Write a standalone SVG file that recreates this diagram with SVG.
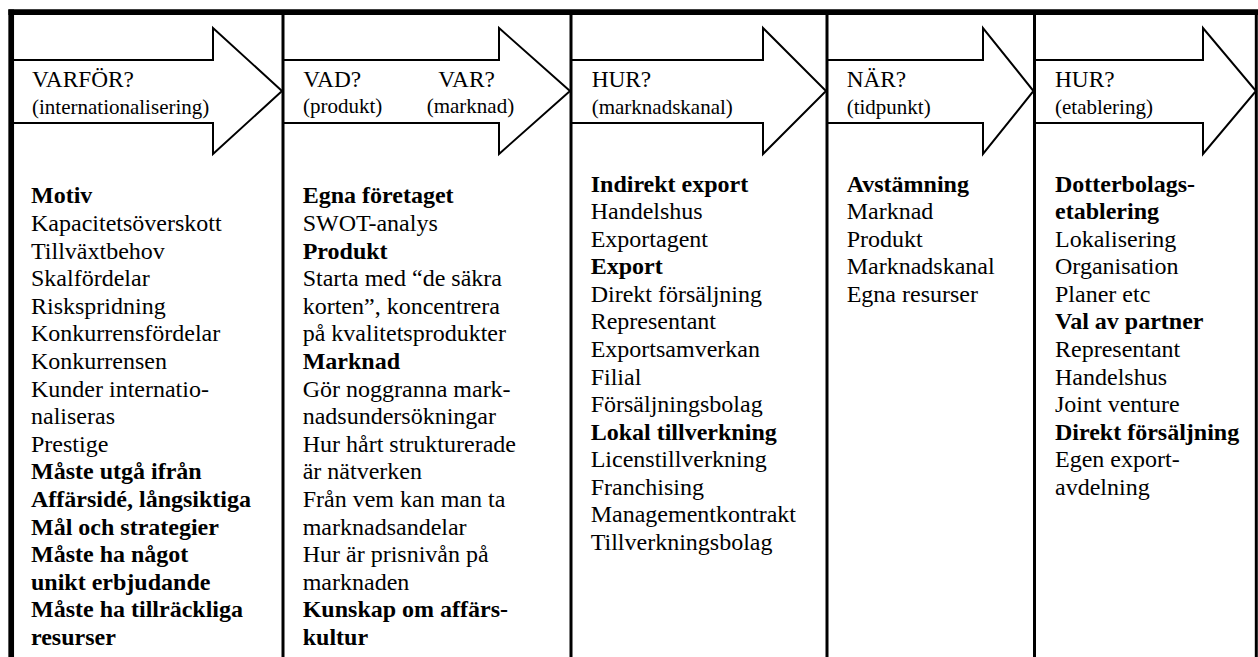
<svg xmlns="http://www.w3.org/2000/svg" width="1258" height="657" viewBox="0 0 1258 657">
<style>
  text { font-family: "Liberation Serif", "Times New Roman", serif; fill: #000; }
  .t { font-size: 23.3px; }
  .s { font-size: 21px; }
  .b { font-size: 24px; }
  .bb { font-size: 24px; font-weight: bold; }
  .arrow { fill: #fff; stroke: #000; stroke-width: 2; stroke-linejoin: miter; }
  .frame { stroke: #000; fill: none; }
</style>
<rect x="0" y="0" width="1258" height="657" fill="#fff"/>

<g id="col-varfor">
  <path class="arrow" d="M13,60 H213 V28 L282,91 L213,154 V123 H13 Z"/>
  <text class="t" x="32" y="87">VARFÖR?</text>
  <text class="s" x="32" y="113.5">(internationalisering)</text>
  <text x="31">
    <tspan class="bb" x="31" y="203.3">Motiv</tspan>
    <tspan class="b" x="31" y="230.9">Kapacitetsöverskott</tspan>
    <tspan class="b" x="31" y="258.5">Tillväxtbehov</tspan>
    <tspan class="b" x="31" y="286.1">Skalfördelar</tspan>
    <tspan class="b" x="31" y="313.7">Riskspridning</tspan>
    <tspan class="b" x="31" y="341.3">Konkurrensfördelar</tspan>
    <tspan class="b" x="31" y="368.9">Konkurrensen</tspan>
    <tspan class="b" x="31" y="396.5">Kunder internatio-</tspan>
    <tspan class="b" x="31" y="424.1">naliseras</tspan>
    <tspan class="b" x="31" y="451.7">Prestige</tspan>
    <tspan class="bb" x="31" y="479.3">Måste utgå ifrån</tspan>
    <tspan class="bb" x="31" y="506.9">Affärsidé, långsiktiga</tspan>
    <tspan class="bb" x="31" y="534.5">Mål och strategier</tspan>
    <tspan class="bb" x="31" y="562.1">Måste ha något</tspan>
    <tspan class="bb" x="31" y="589.7">unikt erbjudande</tspan>
    <tspan class="bb" x="31" y="617.3">Måste ha tillräckliga</tspan>
    <tspan class="bb" x="31" y="644.9">resurser</tspan>
  </text>
</g>

<g id="col-vad-var">
  <path class="arrow" d="M283,60 H499 V28 L570,91 L499,154 V123 H283 Z"/>
  <text class="t" x="303.3" y="87">VAD?</text>
  <text class="t" x="438.3" y="87">VAR?</text>
  <text class="s" x="303" y="113">(produkt)</text>
  <text class="s" x="426.7" y="113">(marknad)</text>
  <text>
    <tspan class="bb" x="302.7" y="203.3">Egna företaget</tspan>
    <tspan class="b" x="302.7" y="230.9">SWOT-analys</tspan>
    <tspan class="bb" x="302.7" y="258.5">Produkt</tspan>
    <tspan class="b" x="302.7" y="286.1">Starta med “de säkra</tspan>
    <tspan class="b" x="302.7" y="313.7">korten”, koncentrera</tspan>
    <tspan class="b" x="302.7" y="341.3">på kvalitetsprodukter</tspan>
    <tspan class="bb" x="302.7" y="368.9">Marknad</tspan>
    <tspan class="b" x="302.7" y="396.5">Gör noggranna mark-</tspan>
    <tspan class="b" x="302.7" y="424.1">nadsundersökningar</tspan>
    <tspan class="b" x="302.7" y="451.7">Hur hårt strukturerade</tspan>
    <tspan class="b" x="302.7" y="479.3">är nätverken</tspan>
    <tspan class="b" x="302.7" y="506.9">Från vem kan man ta</tspan>
    <tspan class="b" x="302.7" y="534.5">marknadsandelar</tspan>
    <tspan class="b" x="302.7" y="562.1">Hur är prisnivån på</tspan>
    <tspan class="b" x="302.7" y="589.7">marknaden</tspan>
    <tspan class="bb" x="302.7" y="617.3">Kunskap om affärs-</tspan>
    <tspan class="bb" x="302.7" y="644.9">kultur</tspan>
  </text>
</g>

<g id="col-hur-kanal">
  <path class="arrow" d="M571,60 H763 V28 L826,91 L763,154 V123 H571 Z"/>
  <text class="t" x="591.7" y="87">HUR?</text>
  <text class="s" x="591.7" y="113.5">(marknadskanal)</text>
  <text>
    <tspan class="bb" x="590.7" y="191.7">Indirekt export</tspan>
    <tspan class="b" x="590.7" y="219.25">Handelshus</tspan>
    <tspan class="b" x="590.7" y="246.8">Exportagent</tspan>
    <tspan class="bb" x="590.7" y="274.35">Export</tspan>
    <tspan class="b" x="590.7" y="301.9">Direkt försäljning</tspan>
    <tspan class="b" x="590.7" y="329.45">Representant</tspan>
    <tspan class="b" x="590.7" y="357">Exportsamverkan</tspan>
    <tspan class="b" x="590.7" y="384.55">Filial</tspan>
    <tspan class="b" x="590.7" y="412.1">Försäljningsbolag</tspan>
    <tspan class="bb" x="590.7" y="439.65">Lokal tillverkning</tspan>
    <tspan class="b" x="590.7" y="467.2">Licenstillverkning</tspan>
    <tspan class="b" x="590.7" y="494.75">Franchising</tspan>
    <tspan class="b" x="590.7" y="522.3">Managementkontrakt</tspan>
    <tspan class="b" x="590.7" y="549.85">Tillverkningsbolag</tspan>
  </text>
</g>

<g id="col-nar">
  <path class="arrow" d="M827,60 H983 V28 L1033.5,91 L983,154 V123 H827 Z"/>
  <text class="t" x="846.7" y="87">NÄR?</text>
  <text class="s" x="846.7" y="113.5">(tidpunkt)</text>
  <text>
    <tspan class="bb" x="846.7" y="191.7">Avstämning</tspan>
    <tspan class="b" x="846.7" y="219.25">Marknad</tspan>
    <tspan class="b" x="846.7" y="246.8">Produkt</tspan>
    <tspan class="b" x="846.7" y="274.35">Marknadskanal</tspan>
    <tspan class="b" x="846.7" y="301.9">Egna resurser</tspan>
  </text>
</g>

<g id="col-hur-etablering">
  <path class="arrow" d="M1035,60 H1203 V28 L1256,91 L1203,154 V123 H1035 Z"/>
  <text class="t" x="1055" y="87">HUR?</text>
  <text class="s" x="1055" y="113.5">(etablering)</text>
  <text>
    <tspan class="bb" x="1055" y="191.7">Dotterbolags-</tspan>
    <tspan class="bb" x="1055" y="219.25">etablering</tspan>
    <tspan class="b" x="1055" y="246.8">Lokalisering</tspan>
    <tspan class="b" x="1055" y="274.35">Organisation</tspan>
    <tspan class="b" x="1055" y="301.9">Planer etc</tspan>
    <tspan class="bb" x="1055" y="329.45">Val av partner</tspan>
    <tspan class="b" x="1055" y="357">Representant</tspan>
    <tspan class="b" x="1055" y="384.55">Handelshus</tspan>
    <tspan class="b" x="1055" y="412.1">Joint venture</tspan>
    <tspan class="bb" x="1055" y="439.65">Direkt försäljning</tspan>
    <tspan class="b" x="1055" y="467.2">Egen export-</tspan>
    <tspan class="b" x="1055" y="494.75">avdelning</tspan>
  </text>
</g>

<g id="frame" class="frame">
  <line x1="8.4" y1="12.2" x2="1258" y2="12.2" stroke-width="5.7"/>
  <line x1="11.2" y1="9.4" x2="11.2" y2="657" stroke-width="5.7"/>
  <line x1="283" y1="12" x2="283" y2="657" stroke-width="3"/>
  <line x1="571" y1="12" x2="571" y2="657" stroke-width="3"/>
  <line x1="827" y1="12" x2="827" y2="657" stroke-width="3"/>
  <line x1="1034.5" y1="12" x2="1034.5" y2="657" stroke-width="3"/>
  <line x1="1256.3" y1="12" x2="1256.3" y2="657" stroke-width="3"/>
</g>
</svg>
